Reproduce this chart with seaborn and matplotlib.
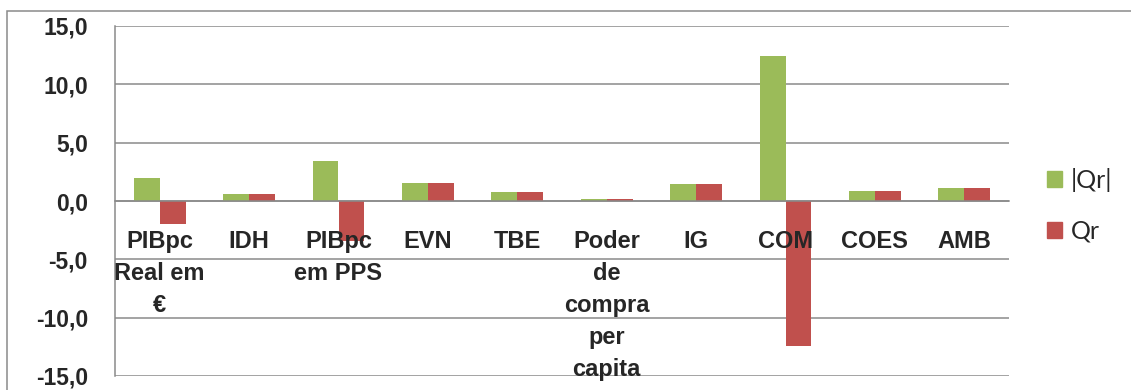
import matplotlib
matplotlib.use("Agg")
import matplotlib.pyplot as plt
import matplotlib.patches as mpatches
from matplotlib.ticker import FuncFormatter, FixedLocator
import numpy as np
import pandas as pd
import seaborn as sns

# Indicators and their values
categories = ["PIBpc\nReal em\n€", "IDH", "PIBpc\nem PPS", "EVN", "TBE",
              "Poder\nde\ncompra\nper\ncapita", "IG", "COM", "COES", "AMB"]
abs_qr = [1.95, 0.6, 3.4, 1.55, 0.75, 0.15, 1.45, 12.4, 0.85, 1.1]
qr = [-1.95, 0.6, -3.4, 1.55, 0.75, 0.15, 1.45, -12.4, 0.85, 1.1]
series_names = ["|Qr|", "Qr"]
series_colors = ["#9BBB59", "#C0504D"]
y_ticks = [-15, -10, -5, 0, 5, 10, 15]

df = pd.DataFrame({
    "cat": categories * 2,
    "val": abs_qr + qr,
    "serie": [series_names[0]] * len(categories) + [series_names[1]] * len(categories),
})

sns.set_style("white")
plt.rcParams["font.family"] = ["Liberation Sans", "DejaVu Sans"]

W, H = 1131, 390
fig = plt.figure(figsize=(W / 100, H / 100), dpi=100)
ax = fig.add_axes([115 / W, 1 - 376 / H, (1009 - 115) / W, (376 - 26) / H])

grey = "#8a8a8a"

# Horizontal gridlines sit underneath the bars
for yv in y_ticks:
    ax.axhline(yv, color=grey, linewidth=1.1, zorder=0)

sns.barplot(data=df, x="cat", y="val", hue="serie", order=categories,
            hue_order=series_names, palette=series_colors, saturation=1,
            width=0.58, ax=ax, legend=False, edgecolor="none", zorder=1)

ax.set_ylim(-15, 15)
ax.set_xlim(-0.5, len(categories) - 0.5)
ax.yaxis.set_major_locator(FixedLocator(y_ticks))
ax.yaxis.set_major_formatter(FuncFormatter(lambda v, p: f"{v:.1f}".replace(".", ",")))
ax.set_xlabel("")
ax.set_ylabel("")
ax.grid(False)
ax.set_axisbelow(False)

for s in ["top", "right"]:
    ax.spines[s].set_visible(False)
ax.spines["left"].set_color(grey)
ax.spines["left"].set_linewidth(1.1)
ax.spines["bottom"].set_position(("data", 0))
ax.spines["bottom"].set_color(grey)
ax.spines["bottom"].set_linewidth(1.1)

ax.tick_params(axis="y", direction="out", length=6.5, width=1.1, color=grey,
               pad=13, labelsize=16.5)
ax.tick_params(axis="x", which="major", length=0, pad=21, labelsize=17)
ax.xaxis.set_minor_locator(FixedLocator(np.arange(-0.5, len(categories), 1.0)))
ax.tick_params(axis="x", which="minor", direction="out", length=6.5, width=1.1,
               color=grey)
for lab in ax.get_xticklabels() + ax.get_yticklabels():
    lab.set_fontweight("bold")
for lab in ax.get_xticklabels():
    lab.set_linespacing(1.5)
    lab.set_verticalalignment("top")

handles = [mpatches.Patch(color=c, label=n) for c, n in zip(series_colors, series_names)]
fig.legend(handles=handles, loc="upper left", bbox_to_anchor=(1047 / W, 1 - 168 / H),
           frameon=False, prop={"family": "Lato", "size": 18},
           handlelength=0.6, handleheight=0.6,
           handletextpad=0.35, labelspacing=1.1, borderaxespad=0, borderpad=0)

# Outer chart frame
fig.patches.append(mpatches.Rectangle((7 / W, -0.2), 1.2, 1.2 - 11 / H,
                                      transform=fig.transFigure, fill=False,
                                      edgecolor=grey, linewidth=1.1))

fig.savefig("out.png", dpi=100)
